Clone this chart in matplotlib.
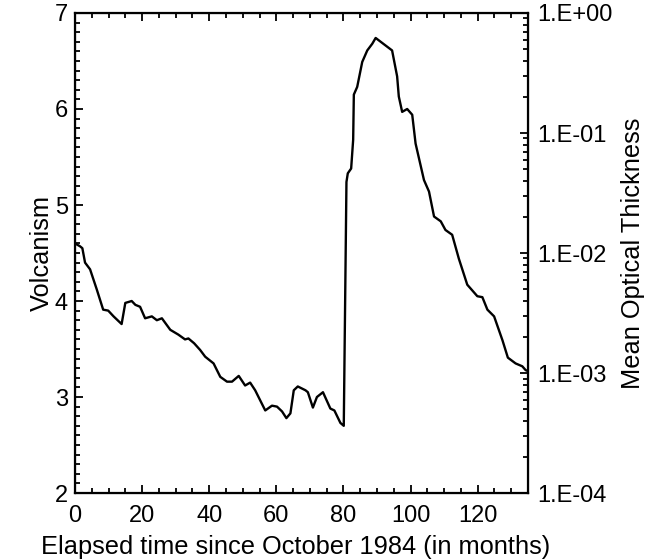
import numpy as np
import matplotlib
matplotlib.use("Agg")
import matplotlib.pyplot as plt
from matplotlib.ticker import MultipleLocator, LogLocator, FuncFormatter, NullFormatter

# Volcanism index vs. elapsed months since October 1984
months = [0, 1.5, 2.2, 3.0, 4.5, 6.5, 8.4, 9.9, 11.5, 13.9, 15.0, 16.9, 18.0, 19.4,
          20.9, 22.9, 24.4, 25.9, 28.4, 30.8, 32.8, 33.8, 35.5, 37.3, 38.8, 41.3,
          43.3, 45.3, 46.8, 48.8, 50.7, 52.2, 53.7, 56.7, 58.7, 60.2, 61.7, 63.0,
          64.2, 65.2, 66.4, 68.7, 69.4, 70.9, 72.1, 73.9, 76.1, 77.3, 79.1, 80.1,
          80.9, 81.3, 82.3, 82.9, 83.1, 84.1, 85.6, 87.1, 88.6, 89.6, 94.5, 96.0,
          96.5, 97.5, 99.0, 100.5, 101.5, 104.0, 105.5, 107.0, 109.0, 110.4, 112.4,
          114.4, 116.9, 118.4, 119.9, 121.4, 122.9, 124.9, 127.4, 129.0, 131.3,
          133.3, 134.3, 135.0]
volcanism = [4.60, 4.57, 4.55, 4.40, 4.33, 4.12, 3.91, 3.90, 3.84, 3.76, 3.98, 4.00,
             3.96, 3.94, 3.82, 3.84, 3.80, 3.82, 3.70, 3.65, 3.60, 3.61, 3.56, 3.49,
             3.42, 3.35, 3.21, 3.16, 3.16, 3.22, 3.12, 3.15, 3.07, 2.86, 2.91, 2.90,
             2.85, 2.78, 2.83, 3.07, 3.11, 3.07, 3.05, 2.89, 3.00, 3.05, 2.88, 2.86,
             2.73, 2.70, 5.24, 5.33, 5.38, 5.68, 6.15, 6.23, 6.49, 6.61, 6.68, 6.74,
             6.61, 6.34, 6.13, 5.97, 6.00, 5.94, 5.64, 5.26, 5.14, 4.88, 4.83, 4.74,
             4.69, 4.44, 4.17, 4.11, 4.05, 4.04, 3.91, 3.84, 3.59, 3.41, 3.35, 3.32,
             3.28, 3.27]

x_ticks = [0, 20, 40, 60, 80, 100, 120]
v_ticks = [2, 3, 4, 5, 6, 7]
tau_ticks = [1e-4, 1e-3, 1e-2, 1e-1, 1e0]

plt.rcParams['font.family'] = ['Liberation Sans', 'DejaVu Sans']
FS_TICK = 17
FS_LABEL = 18.3

fig = plt.figure(figsize=(6.6, 5.6), dpi=100)
ax = fig.add_axes([0.1136, 0.1196, 0.8 - 0.1136, 0.9768 - 0.1196])

ax.plot(months, volcanism, color='black', lw=1.7)
ax.set_xlim(0, 135)
ax.set_ylim(2, 7)
ax.set_xticks(x_ticks)
ax.set_yticks(v_ticks)
ax.xaxis.set_minor_locator(MultipleLocator(5))
ax.yaxis.set_minor_locator(MultipleLocator(0.1))
ax.tick_params(which='both', direction='in', top=True, right=True, labelsize=FS_TICK,
               width=1.3)
ax.tick_params(axis='x', pad=8.5)
ax.tick_params(axis='y', pad=5)
ax.tick_params(which='major', length=6)
ax.tick_params(which='minor', length=3.6)
for s in ax.spines.values():
    s.set_linewidth(1.6)
ax.set_xlabel('Elapsed time since October 1984 (in months)', fontsize=FS_LABEL)
ax.xaxis.label.set_verticalalignment('bottom')
ax.xaxis.set_label_coords(0.487, -0.1375)
ax.set_ylabel('Volcanism', fontsize=FS_LABEL, labelpad=1)

# Log optical-thickness scale tied to the volcanism axis
ax2 = ax.twinx()
ax2.set_yscale('log')
ax2.set_ylim(tau_ticks[0], tau_ticks[-1])
ax2.yaxis.set_major_locator(LogLocator(base=10))
ax2.yaxis.set_minor_locator(LogLocator(base=10, subs=np.arange(2, 10)))
ax2.yaxis.set_minor_formatter(NullFormatter())
ax2.yaxis.set_major_formatter(FuncFormatter(lambda v, p: "1.E%+03d" % int(round(np.log10(v)))))
ax2.tick_params(which='both', direction='in', labelsize=FS_TICK, width=1.3, pad=7)
ax2.tick_params(which='major', length=6)
ax2.tick_params(which='minor', length=3.6)
ax2.set_ylabel('Mean Optical Thickness', fontsize=FS_LABEL, labelpad=6)

fig.savefig('out.png', dpi=100)
